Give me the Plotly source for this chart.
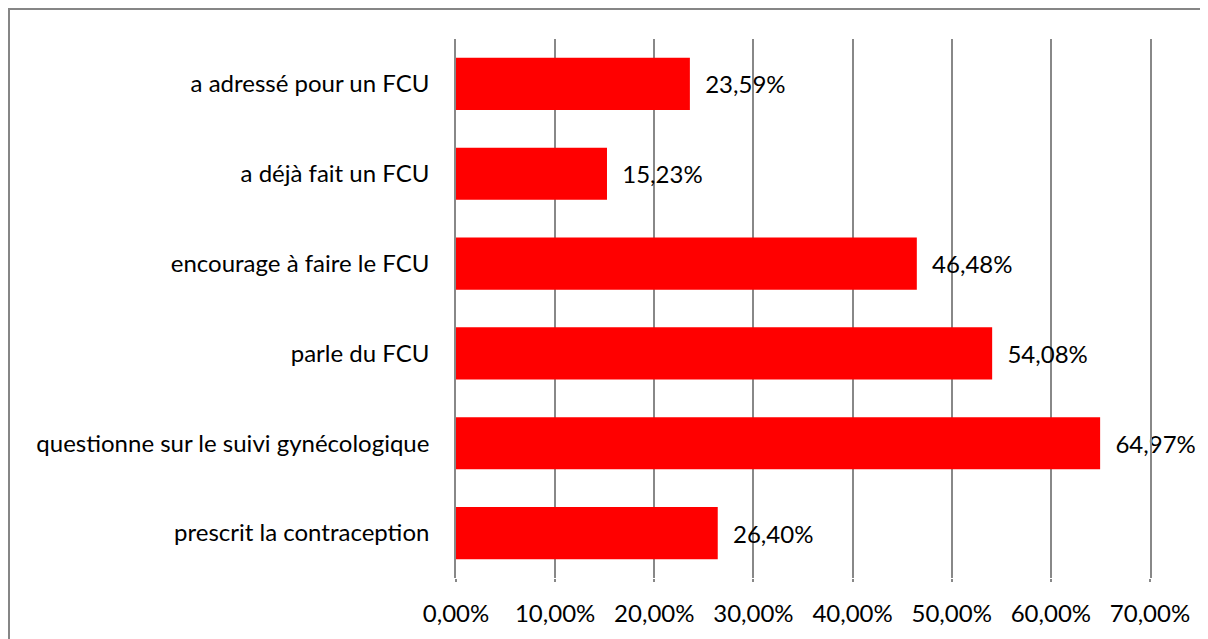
import plotly.graph_objects as go

categories = [
    "a adressé pour un FCU",
    "a déjà fait un FCU",
    "encourage à faire le FCU",
    "parle du FCU",
    "questionne sur le suivi gynécologique",
    "prescrit la contraception",
]
values = [23.59, 15.23, 46.48, 54.08, 64.97, 26.40]
tick_values = [0, 10, 20, 30, 40, 50, 60, 70]
tick_labels = ["0,00%", "10,00%", "20,00%", "30,00%", "40,00%", "50,00%", "60,00%", "70,00%"]

# page has an 8px body margin
OFF = 8
W, H = 1208 - OFF, 639 - OFF
L = 456 - OFF
T = 39 - OFF
R = W - (1150 - OFF)
B = H - (578 - OFF)
pw, ph = W - L - R, H - T - B

FONT = "Lato"
FS = 24
GRID = "#888888"
GW = 1.6

fig = go.Figure(
    go.Bar(
        x=values,
        y=categories,
        orientation="h",
        marker=dict(color="#ff0000", line=dict(width=0)),
        texttemplate="\u00a0\u00a0%{x:.2f}%",
        textposition="outside",
        textfont=dict(family=FONT, size=FS, color="#000000"),
        cliponaxis=False,
        hoverinfo="skip",
    )
)

fig.update_layout(
    width=W,
    height=H,
    margin=dict(l=L, r=R, t=T, b=B, pad=0),
    paper_bgcolor="white",
    plot_bgcolor="white",
    separators=", ",
    bargap=0.42,
    showlegend=False,
    font=dict(family=FONT, size=FS, color="#000000"),
    xaxis=dict(
        range=[0, 70],
        tickvals=tick_values,
        ticktext=tick_labels,
        showgrid=True,
        gridcolor=GRID,
        gridwidth=GW,
        zeroline=False,
        showline=False,
        ticks="outside",
        ticklen=3,
        tickcolor=GRID,
        tickwidth=GW,
        ticklabelstandoff=11,
        tickfont=dict(family=FONT, size=FS),
        fixedrange=True,
    ),
    yaxis=dict(
        autorange="reversed",
        showgrid=False,
        showline=True,
        mirror=True,
        linecolor=GRID,
        linewidth=GW,
        ticks="",
        ticklabelstandoff=20,
        tickfont=dict(family=FONT, size=FS),
        fixedrange=True,
    ),
    shapes=[
        dict(
            type="rect",
            xref="paper",
            yref="paper",
            x0=(9 - OFF - L) / pw,
            x1=(W + 5 - L) / pw,
            y0=-(H + 5 - T - ph) / ph,
            y1=1 + (T - (9 - OFF)) / ph,
            line=dict(color="#868686", width=2),
            fillcolor="rgba(0,0,0,0)",
            layer="above",
        )
    ],
)

fig.write_html("out.html")
